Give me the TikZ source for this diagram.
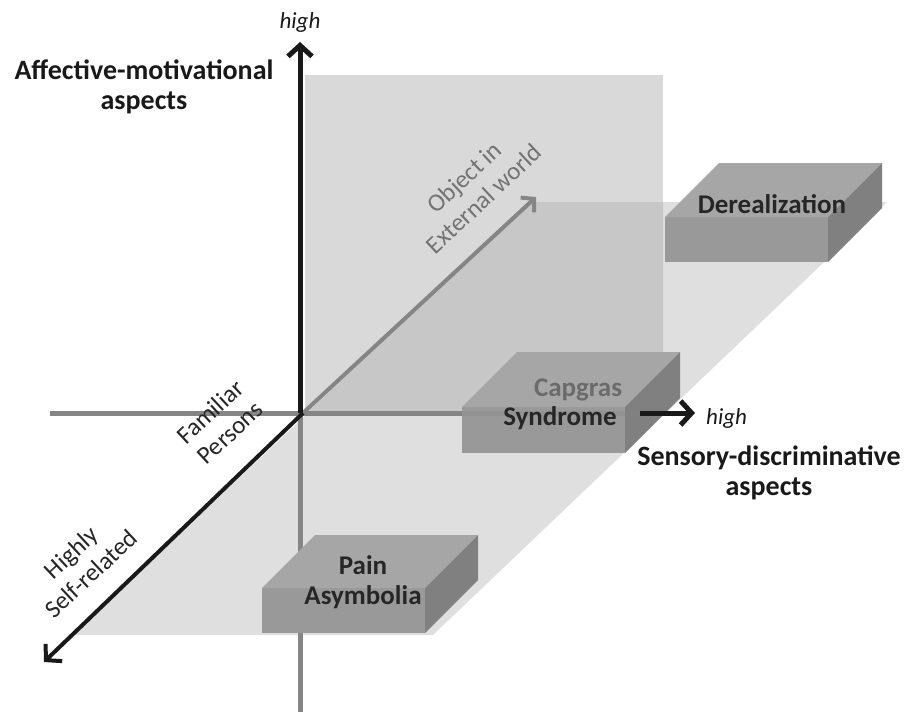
\documentclass[tikz,border=0pt]{standalone}
\usepackage{fontspec}
\setmainfont{Carlito}
\usetikzlibrary{arrows.meta}

\definecolor{panelgray}{gray}{0.85}
\definecolor{floorgray}{gray}{0.875}
\definecolor{overlapgray}{gray}{0.78}
\definecolor{axisgray}{gray}{0.52}
\definecolor{slabtop}{gray}{0.65}
\definecolor{slabfront}{gray}{0.60}
\definecolor{slabside}{gray}{0.50}

% a flat block seen from above-right:
% #1 left x, #2 top y of the front face, #3 width, #4 height, #5 depth
\newcommand{\drawslab}[5]{%
  \fill[slabfront] (#1,#2) rectangle ++(#3,#4);
  \fill[slabtop] (#1,#2) -- ++(#5,-#5) -- ++(#3,0) -- ++(-#5,#5) -- cycle;
  \fill[slabside] (#1+#3,#2) -- ++(#5,-#5) -- ++(0,#4) -- ++(-#5,#5) -- cycle;
}

\tikzset{
  axislabel/.style={font=\fontsize{28}{30}\selectfont\bfseries, align=center, text=black!90, inner sep=0pt},
  slablabel/.style={font=\fontsize{27}{30}\selectfont\bfseries, align=center, inner sep=0pt},
  dirlabel/.style={font=\fontsize{25}{29}\selectfont, align=center, rotate=43, inner sep=0pt},
  highlabel/.style={font=\fontsize{23}{25}\selectfont\itshape, text=black!90, inner sep=0pt},
  blackaxis/.style={line width=5pt, black!90},
  grayaxis/.style={line width=5pt, axisgray},
  barb/.style={-{Straight Barb[length=11pt,width=24pt]}},
}

\begin{document}
\begin{tikzpicture}[x=1pt, y=-1pt]
\useasboundingbox[fill=white] (0,0) rectangle (915,717);

% key points of the three axes
\coordinate (O) at (303,413);
\coordinate (vO) at (300,413);
\coordinate (topend) at (300,42);
\coordinate (bottomend) at (300,712);
\coordinate (leftend) at (50,413);
\coordinate (rightstart) at (640,413);
\coordinate (rightend) at (695,413);
\coordinate (farend) at (536,197);
\coordinate (nearend) at (44,662);

% back wall and floor
\fill[panelgray] (305,75) rectangle (663,413);
\fill[floorgray] (531,202) -- (887,202) -- (433,635) -- (73,635) -- cycle;
\fill[overlapgray] (531,202) -- (663,202) -- (663,413) -- (307,413) -- cycle;

% axes behind the blocks
\draw[grayaxis] (leftend) -- (rightstart);
\draw[grayaxis] (vO) -- (bottomend);
\draw[grayaxis, line width=4pt, -{Straight Barb[length=9pt,width=20pt]}] (O) -- (farend);
\draw[blackaxis, line width=4pt, barb] (O) -- (nearend);
\draw[blackaxis, barb] (vO) -- (topend);

% blocks
\drawslab{665}{217}{163}{45}{54}
\drawslab{462}{407}{163}{46}{55}
\drawslab{262}{588}{163}{45}{53}

% sensory axis seen through the Capgras block, then its head
\draw[grayaxis, opacity=0.3] (462,413) -- (rightstart);
\draw[blackaxis, barb] (rightstart) -- (rightend);

% labels
\node[highlabel] (hightop) at (300,22) {high};
\node[highlabel, anchor=west] (highright) at (706,418) {high};
\node[axislabel] (amlabel) at (144,87) {Affective-motivational\\aspects};
\node[axislabel] (sdlabel) at (769,473) {Sensory-discriminative\\aspects};

\node[dirlabel, text=black!55] (objlabel) at (474,188) {Object in\\External world};
\node[dirlabel, text=black!85] (famlabel) at (220,422) {Familiar\\Persons};
\node[dirlabel, text=black!85] (selflabel) at (81,563) {Highly\\Self-related};

\node[slablabel, text=black!85] (dereal) at (772,204) {Derealization};
\node[slablabel, text=black!58] (capgras) at (578,390) {Capgras};
\node[slablabel, text=black!85] (syndrome) at (560,418) {Syndrome};
\node[slablabel, text=black!85] (pain) at (363,582) {Pain\\Asymbolia};
\end{tikzpicture}
\end{document}
